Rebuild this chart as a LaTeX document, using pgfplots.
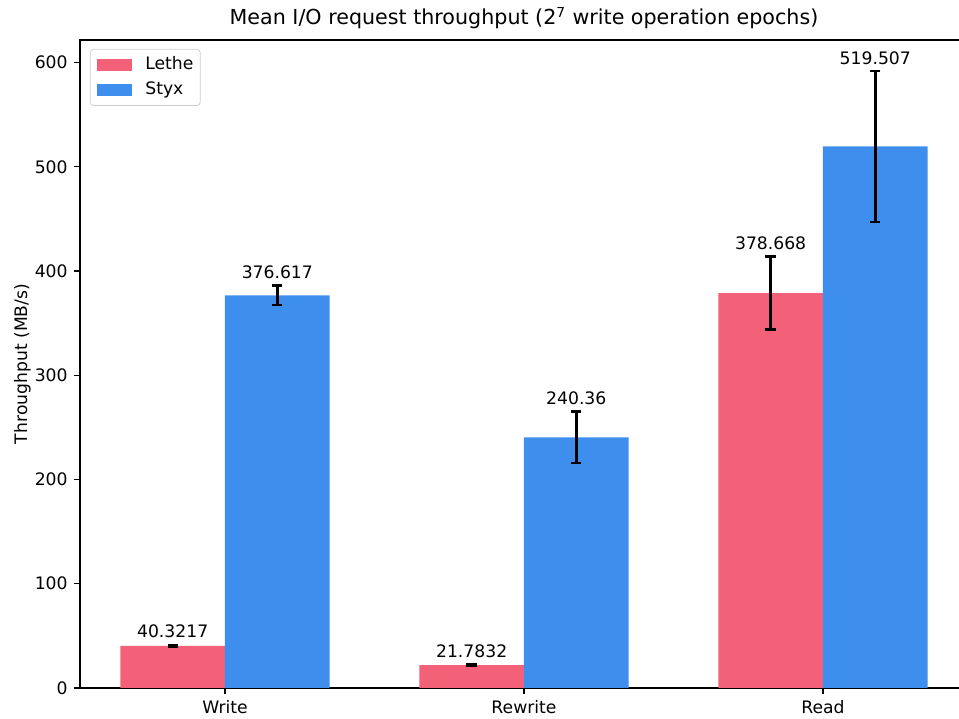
\documentclass[border=0pt]{standalone}
\usepackage{pgfplots}
\pgfplotsset{compat=1.18}
\usepackage{fontspec}
\setmainfont{DejaVu Sans}
\usetikzlibrary{calc}
\definecolor{lethe}{HTML}{F26178}
\definecolor{styx}{HTML}{3D8EED}
\definecolor{legframe}{HTML}{CCCCCC}
\begin{document}
\begin{tikzpicture}
\clip (0,0) rectangle (557.6pt,418.0pt);
\begin{axis}[
  at={(46.51pt,18.02pt)}, anchor=south west,
  scale only axis, width=516.3pt, height=376.7pt,
  xmin=-0.485, xmax=2.485, ymin=0, ymax=621.6,
  xtick={0,1,2}, xticklabels={Write,Rewrite,Read},
  ytick={0,100,200,300,400,500,600},
  tick align=outside, major tick length=3.5pt,
  tick style={black, line width=0.8pt},
  axis line style={line width=0.8pt},
  xtick pos=bottom, ytick pos=left,
  /pgf/number format/assume math mode=true,
  tick label style={font=\fontsize{10}{12}\selectfont},
  xticklabel style={inner sep=0pt, anchor=north, yshift=-3.5pt},
  yticklabel style={inner sep=0pt, anchor=east, xshift=-3.5pt},
  ylabel={Throughput (MB/s)},
  ylabel style={font=\fontsize{10}{12}\selectfont, at={($(rel axis cs:0,0.5)+(-30.8pt,0pt)$)}, anchor=base, inner sep=0pt, rotate=0},
  title={Mean I/O request throughput (2\textsuperscript{7} write operation epochs)},
  title style={font=\fontsize{12}{14}\selectfont, at={(rel axis cs:0.5,1)}, anchor=base, inner sep=0pt, yshift=2.8pt},
  legend style={at={(rel axis cs:0,1)}, anchor=north west, xshift=5.8pt, yshift=-5.2pt,
    draw=legframe, rounded corners=2pt, font=\fontsize{10}{12}\selectfont,
    inner xsep=4pt, inner ysep=4pt, row sep=5.1pt, column sep=8pt,
    nodes={inner sep=0pt, text height=7.5pt, text depth=2.3pt}},
  legend cell align=left,
  legend image code/.code={\fill[#1, sharp corners] (0pt,-3.5pt) rectangle (20pt,3.5pt);},
]
\addplot[ybar, bar width=0.35, bar shift=0pt, fill=lethe, draw=none,
  error bars/.cd, y dir=both, y explicit,
  error bar style={line width=1.5pt, black},
  error mark options={rotate=90, mark size=3pt, line width=1.5pt, black}]
  coordinates {(-0.175,40.3217) +- (0,1.0) (0.825,21.7832) +- (0,0.5) (1.825,378.668) +- (0,35.0)};
\addlegendentry{Lethe}
\addplot[ybar, bar width=0.35, bar shift=0pt, fill=styx, draw=none,
  error bars/.cd, y dir=both, y explicit,
  error bar style={line width=1.5pt, black},
  error mark options={rotate=90, mark size=3pt, line width=1.5pt, black}]
  coordinates {(0.175,376.617) +- (0,9.2) (1.175,240.36) +- (0,24.6) (2.175,519.507) +- (0,72.5)};
\addlegendentry{Styx}
\addplot[draw=none, mark=none, forget plot, nodes near coords, point meta=explicit symbolic,
  every node near coord/.append style={anchor=base, inner sep=0pt, yshift=4pt, font=\fontsize{10}{12}\selectfont, black}]
  coordinates {(-0.175,41.32)[40.3217] (0.825,22.28)[21.7832] (1.825,413.67)[378.668]
               (0.175,385.82)[376.617] (1.175,264.96)[240.36] (2.175,592.0)[519.507]};
\end{axis}
\end{tikzpicture}
\end{document}
